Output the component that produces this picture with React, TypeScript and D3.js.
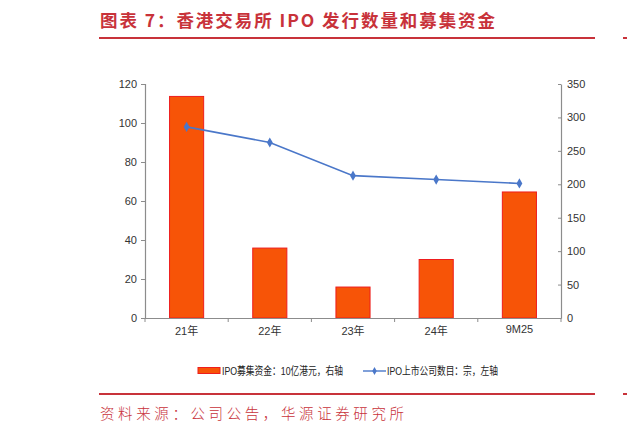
import { useEffect, useRef } from 'react';
import * as d3 from 'd3';

const categories = ['21年', '22年', '23年', '24年', '9M25'];
const fundsRaised = [331.4, 104.6, 46.3, 87.5, 188.5]; // 10亿港元，右轴
const ipoCount = [98, 90, 73, 71, 69]; // 宗，左轴
const leftTicks = [0, 20, 40, 60, 80, 100, 120];
const rightTicks = [0, 50, 100, 150, 200, 250, 300, 350];

const titleText = '图表 7：香港交易所 IPO 发行数量和募集资金';
const sourceText = '资料来源：公司公告，华源证券研究所';
const barLegend = 'IPO募集资金：10亿港元，右轴';
const lineLegend = 'IPO上市公司数目：宗，左轴';

export default function App() {
  const svgRef = useRef<SVGSVGElement>(null);
  const width = 627;
  const height = 433;

  useEffect(() => {
    if (!svgRef.current) return;
    const svg = d3.select(svgRef.current);
    svg.selectAll('*').remove();

    const red = '#c8323a';
    const axisColor = '#8c8c8c';
    const font = 'Liberation Sans, Arial, Noto Sans CJK SC, sans-serif';
    const cjk = 'Noto Sans CJK SC, sans-serif';

    // header
    svg.append('text')
      .attr('x', 100)
      .attr('y', 27)
      .attr('fill', red)
      .attr('textLength', 395)
      .attr('lengthAdjust', 'spacing')
      .style('font-family', cjk)
      .style('font-weight', 700)
      .style('font-size', '17.5px')
      .text(titleText);
    svg.append('rect').attr('x', 99).attr('y', 37).attr('width', 496).attr('height', 2).attr('fill', red);
    svg.append('rect').attr('x', 623).attr('y', 37).attr('width', 4).attr('height', 2).attr('fill', red);

    // footer
    svg.append('rect').attr('x', 99).attr('y', 393).attr('width', 496).attr('height', 2).attr('fill', red);
    svg.append('rect').attr('x', 623).attr('y', 393).attr('width', 4).attr('height', 2).attr('fill', red);
    svg.append('text')
      .attr('x', 100)
      .attr('y', 419)
      .attr('fill', red)
      .attr('textLength', 304)
      .attr('lengthAdjust', 'spacing')
      .style('font-family', cjk)
      .style('font-weight', 300)
      .style('font-size', '14.5px')
      .text(sourceText);

    // plot area
    const x0 = 145, x1 = 561, yTop = 84, yBottom = 318;

    const x = d3.scaleBand<string>()
      .domain(categories)
      .range([x0, x1])
      .paddingInner(0.59)
      .paddingOuter(0.295);

    const yLeft = d3.scaleLinear().domain([0, 120]).range([yBottom, yTop]);
    const yRight = d3.scaleLinear().domain([0, 350]).range([yBottom, yTop]);

    // bars
    svg.append('g')
      .selectAll('rect')
      .data(fundsRaised)
      .join('rect')
      .attr('x', (_, i) => x(categories[i])!)
      .attr('y', d => yRight(d))
      .attr('width', x.bandwidth())
      .attr('height', d => yBottom - yRight(d))
      .attr('fill', '#f75407')
      .attr('stroke', '#ee1d1d')
      .attr('stroke-width', 1);

    // left axis
    const gl = svg.append('g')
      .attr('transform', `translate(${x0},0)`)
      .call(d3.axisLeft(yLeft).tickValues(leftTicks).tickSize(4).tickPadding(4));
    // right axis
    const gr = svg.append('g')
      .attr('transform', `translate(${x1},0)`)
      .call(d3.axisRight(yRight).tickValues(rightTicks).tickSize(0).tickPadding(6));
    gr.selectAll('.tick').append('line').attr('x1', -3).attr('x2', 0);

    // x axis
    const gx = svg.append('g')
      .attr('transform', `translate(0,${yBottom})`)
      .call(d3.axisBottom(x).tickSize(0).tickPadding(9));
    const step = x.step();
    gx.selectAll('.boundary')
      .data(d3.range(categories.length + 1))
      .join('line')
      .attr('x1', i => x0 + i * step)
      .attr('x2', i => x0 + i * step)
      .attr('y1', 0)
      .attr('y2', 4)
      .attr('stroke', axisColor);

    [gl, gr, gx].forEach(g => {
      g.selectAll('path.domain').attr('stroke', axisColor).attr('stroke-width', 1.2);
      g.selectAll('line').attr('stroke', axisColor);
      g.selectAll('text')
        .attr('fill', '#333')
        .style('font-family', font)
        .style('font-size', '11px');
    });
    gx.selectAll('.tick text').filter((d) => d === '9M25').attr('dy', '0.55em');

    // line series
    const linePts = ipoCount.map((v, i) => [x(categories[i])! + x.bandwidth() / 2, yLeft(v)] as [number, number]);
    svg.append('path')
      .datum(linePts)
      .attr('d', d3.line())
      .attr('fill', 'none')
      .attr('stroke', '#4a77c9')
      .attr('stroke-width', 1.6);
    svg.append('g')
      .selectAll('path')
      .data(linePts)
      .join('path')
      .attr('transform', d => `translate(${d[0]},${d[1]})`)
      .attr('d', d3.symbol(d3.symbolDiamond, 30))
      .attr('fill', '#4a77c9');

    // legend
    const lg = svg.append('g');
    lg.append('rect')
      .attr('x', 198).attr('y', 367.5).attr('width', 22).attr('height', 6)
      .attr('fill', '#f75407').attr('stroke', '#ee1d1d');
    lg.append('text')
      .attr('x', 222).attr('y', 375)
      .attr('fill', '#222')
      .attr('textLength', 121)
      .attr('lengthAdjust', 'spacingAndGlyphs')
      .style('font-family', font)
      .style('font-size', '11px')
      .text(barLegend);
    lg.append('line')
      .attr('x1', 363).attr('x2', 386).attr('y1', 371).attr('y2', 371)
      .attr('stroke', '#4a77c9').attr('stroke-width', 1.4);
    lg.append('path')
      .attr('transform', 'translate(374.5,371)')
      .attr('d', d3.symbol(d3.symbolDiamond, 18)())
      .attr('fill', '#4a77c9');
    lg.append('text')
      .attr('x', 387).attr('y', 375)
      .attr('fill', '#222')
      .attr('textLength', 111)
      .attr('lengthAdjust', 'spacingAndGlyphs')
      .style('font-family', font)
      .style('font-size', '11px')
      .text(lineLegend);
  }, []);

  return (
    <svg
      ref={svgRef}
      width={width}
      height={height}
      viewBox={`0 0 ${width} ${height}`}
      style={{ position: 'absolute', left: 0, top: 0, background: '#fff' }}
    />
  );
}
